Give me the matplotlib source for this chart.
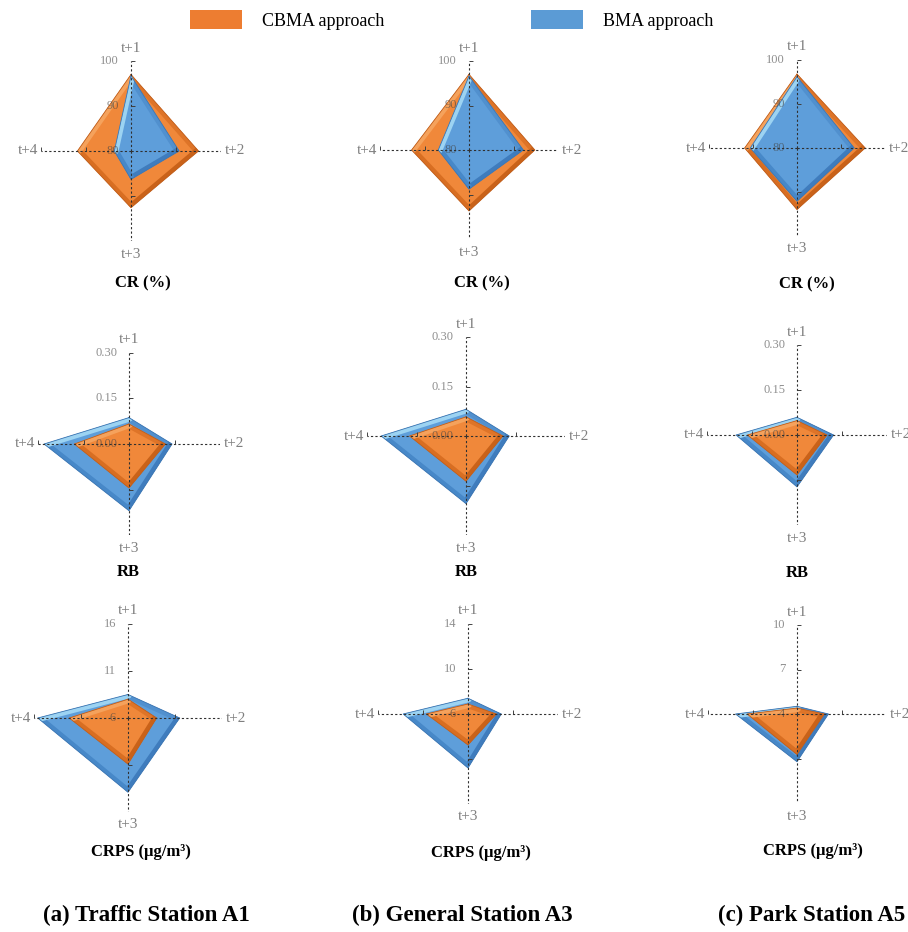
import matplotlib.pyplot as plt
import numpy as np
from matplotlib.patches import Patch

plt.rcParams['font.family'] = ['Liberation Serif', 'DejaVu Serif']

W, H = 908, 932

horizons = ['t+1', 't+2', 't+3', 't+4']
stations = ['(a) Traffic Station A1', '(b) General Station A3', '(c) Park Station A5']
metrics = ['CR (%)', 'RB', 'CRPS (μg/m³)']

# values per station (A1, A3, A5), order t+1..t+4
cr_cbma = [[97.0, 95.0, 92.6, 91.9], [97.0, 94.8, 93.7, 92.9], [96.8, 95.5, 94.0, 91.9]]
cr_bma = [[96.7, 90.7, 86.3, 83.7], [96.6, 92.2, 88.8, 86.9], [96.2, 93.0, 92.1, 90.6]]

rb_cbma = [[0.066, 0.120, 0.145, 0.180], [0.058, 0.112, 0.137, 0.171], [0.048, 0.100, 0.133, 0.165]]
rb_bma = [[0.087, 0.142, 0.220, 0.280], [0.081, 0.131, 0.205, 0.257], [0.059, 0.122, 0.173, 0.203]]

crps_cbma = [[8.0, 9.05, 10.9, 12.25], [6.89, 8.52, 8.75, 9.7], [4.4, 5.84, 6.73, 7.36]]
crps_bma = [[8.5, 11.5, 13.9, 15.6], [7.4, 8.96, 10.8, 11.76], [4.52, 6.12, 7.22, 8.14]]

cr_ticks = [[80, 90, 100]] * 3
rb_ticks = [[0.00, 0.15, 0.30]] * 3
crps_ticks = [[6, 11, 16], [6, 10, 14], [4, 7, 10]]

# panel centres and radii in pixels, rows = metrics, cols = stations
centres = [[(131, 151, 90), (469, 150, 89), (797, 148, 88)],
           [(129, 444, 91), (466, 436, 99), (797, 435, 90)],
           [(128, 718, 94), (468, 714, 90), (797, 714, 89)]]
title_pos = [[(143, 283), (482, 283), (807, 284)],
             [(128, 572), (466, 572), (797, 573)],
             [(141, 852), (481, 853), (813, 851)]]

# fill, upper-right, lower-right, lower-left, upper-left, outline
ORANGE = ['#F0883A', '#DE7428', '#C96219', '#D86E22', '#F5A25C', '#BF5E1C']
BLUE = ['#5E9EDA', '#5190CE', '#3F7CBD', '#4788C8', '#9CD3F2', '#3D76B2']


def px(x, y):
    return x / W, 1 - y / H


def bevel_poly(ax, theta, vals, shades):
    th = np.append(theta, theta[0])
    r = np.append(vals, vals[0])
    patch, = ax.fill(th, r, color=shades[0], lw=0, zorder=3)
    for i in range(4):
        ln, = ax.plot(th[i:i + 2], r[i:i + 2], color=shades[i + 1], lw=6,
                      solid_capstyle='round', zorder=3)
        ln.set_clip_path(patch)
    ax.plot(th, r, color=shades[-1], lw=0.6, zorder=3)


def radar(ax, ticks, fmt, cbma, bma, bma_on_top):
    theta = np.arange(4) * np.pi / 2
    ax.set_theta_zero_location('N')
    ax.set_theta_direction(-1)
    ax.set_ylim(ticks[0], ticks[-1])
    ax.grid(False)
    ax.set_xticks([])
    ax.set_yticks([])
    ax.spines['polar'].set_visible(False)
    ax.patch.set_visible(False)

    series = [(cbma, ORANGE), (bma, BLUE)]
    if not bma_on_top:
        series = series[::-1]
    for vals, shades in series:
        bevel_poly(ax, theta, vals, shades)

    for t in theta:
        ax.plot([t, t], [ticks[0], ticks[-1]], ls=(0, (2, 2)), color='#303030', lw=0.8, zorder=10)
    # small tick marks
    ax.plot([0, np.pi] * 2, [ticks[1], ticks[1], ticks[2], ticks[2]], ls='none',
            marker=1, ms=3, mew=0.7, color='#404040', zorder=10)
    ax.plot([np.pi / 2, 3 * np.pi / 2] * 2, [ticks[1], ticks[1], ticks[2], ticks[2]], ls='none',
            marker=2, ms=3, mew=0.7, color='#404040', zorder=10)

    for v in ticks:
        ax.annotate(fmt % v, xy=(0, v), xytext=(-12, 0), textcoords='offset pixels',
                    ha='right', va='center', fontsize=9, color='#444444', alpha=0.6,
                    zorder=5, annotation_clip=False)

    offsets = [((0, 13), 'center', 'center'), ((4, 0), 'left', 'center'),
               ((0, -13), 'center', 'center'), ((-3, 0), 'right', 'center')]
    for t, name, (off, ha, va) in zip(theta, horizons, offsets):
        ax.annotate(name, xy=(t, ticks[-1]), xytext=off, textcoords='offset pixels',
                    ha=ha, va=va, fontsize=11, color='#7f7f7f', annotation_clip=False)


fig = plt.figure(figsize=(W / 100, H / 100), dpi=100)

rows = [(cr_cbma, cr_bma, cr_ticks, '%d', True),
        (rb_cbma, rb_bma, rb_ticks, '%.2f', False),
        (crps_cbma, crps_bma, crps_ticks, '%d', False)]

for i, (cbma, bma, ticks, fmt, bma_top) in enumerate(rows):
    for j in range(3):
        cx, cy, R = centres[i][j]
        ax = fig.add_axes([(cx - R) / W, 1 - (cy + R) / H, 2 * R / W, 2 * R / H], projection='polar')
        radar(ax, ticks[j], fmt, cbma[j], bma[j], bma_top)
        tx, ty = title_pos[i][j]
        fig.text(*px(tx, ty), metrics[i], ha='center', va='center', fontsize=12, fontweight='bold')

for x, name in zip([43, 352, 718], stations):
    fig.text(*px(x, 915), name, ha='left', va='center', fontsize=16.5, fontweight='bold')

handles = [Patch(facecolor='#ED7D31', edgecolor='none', label='CBMA approach'),
           Patch(facecolor='#5B9BD5', edgecolor='none', label='BMA approach')]
fig.legend(handles=handles, loc='center left', bbox_to_anchor=px(190, 20), ncol=2,
           frameon=False, fontsize=13, handlelength=2.9, handleheight=1.2,
           handletextpad=1.1, columnspacing=8.1, borderpad=0, borderaxespad=0)

fig.savefig('out.png', dpi=100)
